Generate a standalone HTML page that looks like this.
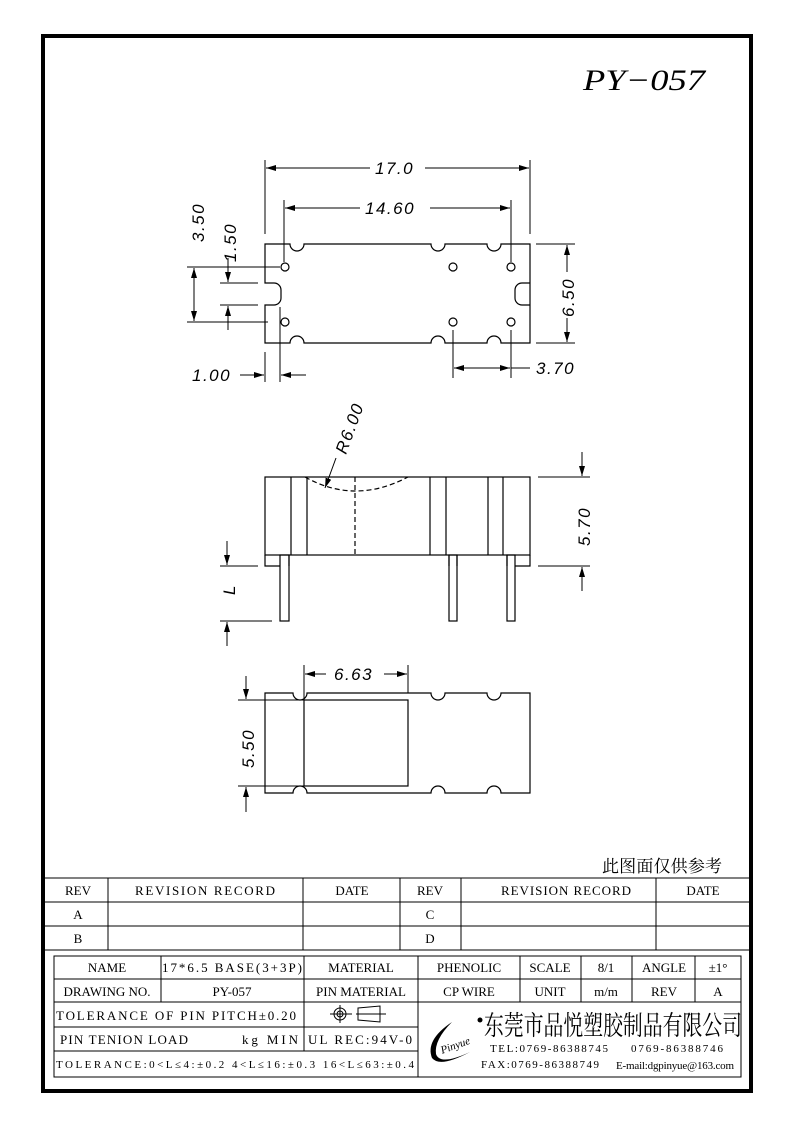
<!DOCTYPE html>
<html><head><meta charset="utf-8"><style>
html,body{margin:0;padding:0;background:#fff;}
svg{display:block;}
text{font-family:"Liberation Serif","Noto Serif CJK SC",serif;fill:#000;}
.d{font-family:"Liberation Sans",sans-serif;font-style:italic;font-size:17px;letter-spacing:1.5px;}
.t{font-size:13px;}
</style></head><body>
<svg width="793" height="1123" viewBox="0 0 793 1123" xmlns="http://www.w3.org/2000/svg">
<defs>
<marker id="a" viewBox="0 0 10 6" refX="10" refY="3" markerWidth="10" markerHeight="6" orient="auto-start-reverse" markerUnits="userSpaceOnUse"><path d="M0,0 L10,3 L0,6 z" fill="#000"/></marker>
</defs>
<rect x="43" y="36" width="708" height="1055" fill="none" stroke="#000" stroke-width="4"/>
<text x="583" y="90" font-size="30" font-style="italic" textLength="122" lengthAdjust="spacingAndGlyphs">PY−057</text>

<g fill="none" stroke="#000" stroke-width="1.2">
<!-- TOP VIEW -->
<path d="M265,244 H290 A7,7 0 0 0 304,244 H431 A7,7 0 0 0 445,244 H487 A7,7 0 0 0 501,244 H530 V343 H501 A7,7 0 0 0 487,343 H445 A7,7 0 0 0 431,343 H304 A7,7 0 0 0 290,343 H265 V305 H274 A7,7 0 0 0 281,298 V290 A7,7 0 0 0 274,283 H265 Z"/>
<path d="M530,283 H522 A7,7 0 0 0 515,290 V298 A7,7 0 0 0 522,305 H530"/>
<circle cx="285" cy="267" r="4"/><circle cx="453" cy="267" r="4"/><circle cx="511" cy="267" r="4"/>
<circle cx="285" cy="322" r="4"/><circle cx="453" cy="322" r="4"/><circle cx="511" cy="322" r="4"/>
<g stroke-width="1">
<line x1="265" y1="160" x2="265" y2="234"/><line x1="530" y1="160" x2="530" y2="234"/>
<line x1="266" y1="168" x2="370" y2="168" marker-start="url(#a)"/><line x1="425" y1="168" x2="529" y2="168" marker-end="url(#a)"/>
<line x1="284" y1="200" x2="284" y2="262"/><line x1="511" y1="200" x2="511" y2="262"/>
<line x1="285" y1="208" x2="360" y2="208" marker-start="url(#a)"/><line x1="430" y1="208" x2="510" y2="208" marker-end="url(#a)"/>
<line x1="536" y1="244" x2="575" y2="244"/><line x1="536" y1="343" x2="575" y2="343"/>
<line x1="567" y1="245" x2="567" y2="272" marker-start="url(#a)"/><line x1="567" y1="318" x2="567" y2="342" marker-end="url(#a)"/>
<line x1="453" y1="330" x2="453" y2="378"/><line x1="511" y1="330" x2="511" y2="378"/>
<line x1="454" y1="368" x2="510" y2="368" marker-start="url(#a)" marker-end="url(#a)"/><line x1="511" y1="368" x2="530" y2="368"/>
<line x1="265" y1="352" x2="265" y2="382"/><line x1="280" y1="307" x2="280" y2="382"/>
<line x1="240" y1="375" x2="264" y2="375" marker-end="url(#a)"/><line x1="306" y1="375" x2="281" y2="375" marker-end="url(#a)"/>
<line x1="187" y1="267" x2="280" y2="267"/><line x1="187" y1="322" x2="268" y2="322"/>
<line x1="194" y1="268" x2="194" y2="321" marker-start="url(#a)" marker-end="url(#a)"/>
<line x1="220" y1="283" x2="258" y2="283"/><line x1="220" y1="305" x2="258" y2="305"/>
<line x1="228" y1="258" x2="228" y2="282" marker-end="url(#a)"/><line x1="228" y1="330" x2="228" y2="306" marker-end="url(#a)"/>
</g>
<!-- SIDE VIEW -->
<rect x="265" y="477" width="265" height="78"/>
<path d="M265,555 V566 H280 M289,566 V555 M449,555 V566 M457,566 V555 M507,555 V566 M515,566 H530 V555"/>
<rect x="280" y="555" width="9" height="66"/><rect x="449" y="555" width="8" height="66"/><rect x="507" y="555" width="8" height="66"/>
<path d="M291,477 V555 M307,477 V555 M430,477 V555 M446,477 V555 M488,477 V555 M503,477 V555"/>
<path d="M355,477 V555" stroke-dasharray="5,3"/>
<path d="M305,477 Q355,505 408,477" stroke-dasharray="5,3"/>
<g stroke-width="1">
<line x1="336" y1="458" x2="325" y2="488" marker-end="url(#a)"/>
<line x1="538" y1="477" x2="590" y2="477"/><line x1="538" y1="566" x2="590" y2="566"/>
<line x1="582" y1="452" x2="582" y2="476" marker-end="url(#a)"/><line x1="582" y1="591" x2="582" y2="567" marker-end="url(#a)"/>
<line x1="220" y1="566" x2="258" y2="566"/><line x1="220" y1="621" x2="272" y2="621"/>
<line x1="227" y1="541" x2="227" y2="565" marker-end="url(#a)"/><line x1="227" y1="646" x2="227" y2="622" marker-end="url(#a)"/>
</g>
<!-- BOTTOM VIEW -->
<path d="M265,693 H293 A7,7 0 0 0 307,693 H431 A7,7 0 0 0 445,693 H487 A7,7 0 0 0 501,693 H530 V793 H501 A7,7 0 0 0 487,793 H445 A7,7 0 0 0 431,793 H307 A7,7 0 0 0 293,793 H265 Z"/>
<rect x="304" y="700" width="104" height="86"/>
<g stroke-width="1">
<line x1="304" y1="665" x2="304" y2="700"/><line x1="408" y1="665" x2="408" y2="693"/>
<line x1="305" y1="674" x2="326" y2="674" marker-start="url(#a)"/><line x1="384" y1="674" x2="407" y2="674" marker-end="url(#a)"/>
<line x1="238" y1="700" x2="304" y2="700"/><line x1="238" y1="786" x2="304" y2="786"/>
<line x1="246" y1="676" x2="246" y2="699" marker-end="url(#a)"/><line x1="246" y1="812" x2="246" y2="787" marker-end="url(#a)"/>
</g>
</g>
<text class="d" x="375" y="174">17.0</text>
<text class="d" x="365" y="214">14.60</text>
<text class="d" x="536" y="374">3.70</text>
<text class="d" x="192" y="381">1.00</text>
<text class="d" transform="translate(574,317) rotate(-90)">6.50</text>
<text class="d" transform="translate(204,242) rotate(-90)">3.50</text>
<text class="d" transform="translate(236,262) rotate(-90)">1.50</text>
<text class="d" transform="translate(346,455) rotate(-70)">R6.00</text>
<text class="d" transform="translate(590,546) rotate(-90)">5.70</text>
<text class="d" font-family="Liberation Serif" transform="translate(235,595) rotate(-90)">L</text>
<text class="d" x="334" y="680">6.63</text>
<text class="d" transform="translate(254,768) rotate(-90)">5.50</text>

<text x="602" y="872" font-size="17" font-family="Noto Sans CJK SC,sans-serif" textLength="120">此图面仅供参考</text>

<g fill="none" stroke="#000" stroke-width="1">
<path d="M45,878 H749 M45,902 H749 M45,926 H749 M45,950 H749"/>
<path d="M108,878 V950 M303,878 V950 M400,878 V950 M461,878 V950 M656,878 V950"/>
<rect x="54" y="956" width="687" height="121"/>
<path d="M54,979 H741 M54,1002 H741 M54,1027 H418 M54,1051 H418"/>
<path d="M161,956 V1002 M304,956 V1051 M418,956 V1077 M520,956 V1002 M581,956 V1002 M632,956 V1002 M695,956 V1002"/>
</g>
<g class="t" text-anchor="middle">
<text x="78" y="895">REV</text><text x="205" y="895" textLength="140">REVISION RECORD</text><text x="352" y="895">DATE</text>
<text x="430" y="895">REV</text><text x="566" y="895" textLength="130">REVISION RECORD</text><text x="703" y="895">DATE</text>
<text x="78" y="919">A</text><text x="430" y="919">C</text><text x="78" y="943">B</text><text x="430" y="943">D</text>
<text x="107" y="972">NAME</text><text x="232" y="972" textLength="140">17*6.5 BASE(3+3P)</text><text x="361" y="972">MATERIAL</text>
<text x="469" y="972">PHENOLIC</text><text x="550" y="972">SCALE</text><text x="606" y="972">8/1</text><text x="664" y="972">ANGLE</text><text x="718" y="972">±1°</text>
<text x="107" y="996">DRAWING NO.</text><text x="232" y="996">PY-057</text><text x="361" y="996">PIN MATERIAL</text>
<text x="469" y="996">CP WIRE</text><text x="550" y="996">UNIT</text><text x="606" y="996">m/m</text><text x="664" y="996">REV</text><text x="718" y="996">A</text>
</g>
<g class="t">
<text x="56" y="1020" textLength="240">TOLERANCE OF PIN PITCH±0.20</text>
<text x="60" y="1044" textLength="128">PIN TENION LOAD</text><text x="242" y="1044" textLength="56">kg MIN</text>
<text x="308" y="1044" textLength="104">UL REC:94V-0</text>
<text x="56" y="1068" font-size="11" textLength="358">TOLERANCE:0&lt;L≤4:±0.2  4&lt;L≤16:±0.3  16&lt;L≤63:±0.4</text>
</g>
<g fill="none" stroke="#000" stroke-width="1">
<circle cx="340" cy="1014" r="6"/><circle cx="340" cy="1014" r="3"/><path d="M330,1014 H352 M340,1005 V1023"/>
<path d="M358,1008 L380,1006 V1022 L358,1020 Z M356,1014 H386"/>
</g>
<path d="M452,1022 Q425,1040 432,1058 Q440,1068 470,1052 Q440,1066 436,1054 Q434,1040 452,1022 Z" fill="#000"/>
<text x="440" y="1050" font-size="11" font-family="Liberation Sans" font-style="italic" transform="rotate(-20 452 1046)">Pinyue</text>
<circle cx="480" cy="1020" r="2.5" fill="#000"/>
<text x="484" y="1035" font-size="27" font-family="Noto Sans CJK SC,sans-serif" textLength="258" lengthAdjust="spacingAndGlyphs">东莞市品悦塑胶制品有限公司</text>
<text x="490" y="1052" font-size="11" textLength="118">TEL:0769-86388745</text>
<text x="631" y="1052" font-size="11" textLength="92">0769-86388746</text>
<text x="481" y="1068" font-size="11" textLength="118">FAX:0769-86388749</text>
<text x="616" y="1069" font-size="11" font-family="Liberation Sans" textLength="118">E-mail:dgpinyue@163.com</text>
</svg>
</body></html>
